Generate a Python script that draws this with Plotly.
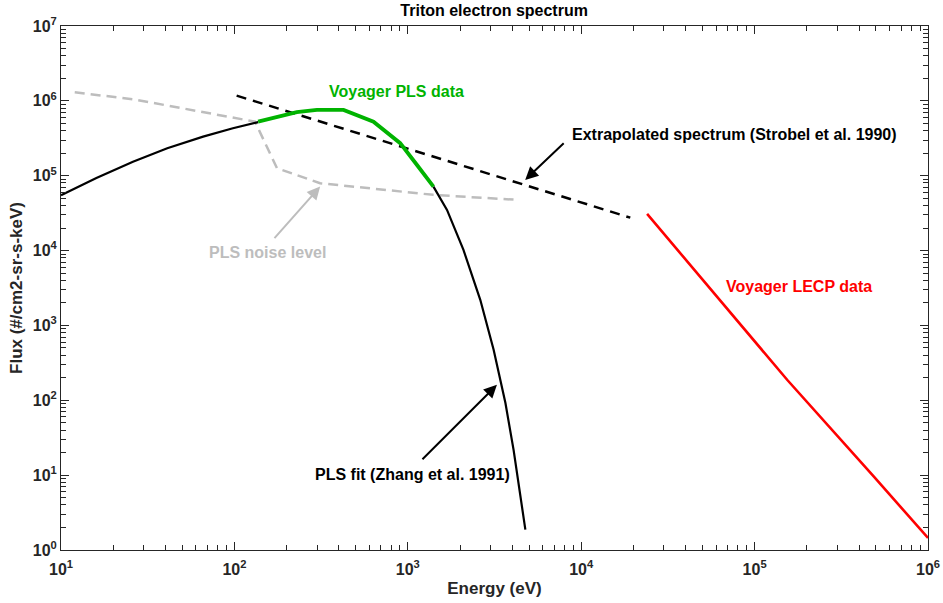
import plotly.graph_objects as go

# ---- data ----
fit_low_E = [10, 16, 26, 41, 66, 98, 137]
fit_low_F = [5.5e4, 9.3e4, 1.54e5, 2.33e5, 3.33e5, 4.3e5, 5.2e5]

pls_E = [137, 229, 299, 426, 634, 904, 1130, 1406]
pls_F = [5.27e5, 7.05e5, 7.57e5, 7.57e5, 5.27e5, 2.72e5, 1.39e5, 7.16e4]

fit_high_E = [1406, 1683, 2094, 2618, 3126, 3656, 4074, 4764]
fit_high_F = [7.16e4, 3.49e4, 1.02e4, 2198, 472, 91.8, 21.8, 1.87]

extrap_E = [103, 19190]
extrap_F = [1.175e6, 2.75e4]

noise_E = [12, 26.1, 131.5, 153.8, 176, 312, 1403, 4355]
noise_F = [1.3e6, 1.05e6, 5.27e5, 2.45e5, 1.26e5, 7.94e4, 5.55e4, 4.75e4]

lecp_E = [23990, 1.54e5, 4.86e5, 1.0e6]
lecp_F = [3.09e4, 188, 9.6, 1.45]

x_tickvals = [1e1, 1e2, 1e3, 1e4, 1e5, 1e6]
x_ticktext = ["10<sup>1</sup>", "10<sup>2</sup>", "10<sup>3</sup>", "10<sup>4</sup>", "10<sup>5</sup>", "10<sup>6</sup>"]
y_tickvals = [1e0, 1e1, 1e2, 1e3, 1e4, 1e5, 1e6, 1e7]
y_ticktext = ["10<sup>0</sup>", "10<sup>1</sup>", "10<sup>2</sup>", "10<sup>3</sup>", "10<sup>4</sup>", "10<sup>5</sup>", "10<sup>6</sup>", "10<sup>7</sup>"]

FONT = "Liberation Sans, Arial, Helvetica, sans-serif"
AX = "#262626"
GRAY = "#BDBDBD"
GREEN = "#00B300"
RED = "#FF0000"

fig = go.Figure()
fig.add_trace(go.Scatter(x=noise_E, y=noise_F, mode="lines",
                         line=dict(color=GRAY, width=2.5, dash="10px,6px")))
fig.add_trace(go.Scatter(x=extrap_E, y=extrap_F, mode="lines",
                         line=dict(color="black", width=2.5, dash="10px,7px")))
fig.add_trace(go.Scatter(x=fit_low_E, y=fit_low_F, mode="lines",
                         line=dict(color="black", width=2.2)))
fig.add_trace(go.Scatter(x=fit_high_E, y=fit_high_F, mode="lines",
                         line=dict(color="black", width=2.2)))
fig.add_trace(go.Scatter(x=pls_E, y=pls_F, mode="lines",
                         line=dict(color=GREEN, width=3.8)))
fig.add_trace(go.Scatter(x=lecp_E, y=lecp_F, mode="lines",
                         line=dict(color=RED, width=2.6)))

def minor_vals(lo, hi):
    out = []
    for d in range(lo, hi):
        for m in range(2, 10):
            out.append(m * 10 ** d)
    return out

axis_common = dict(
    type="log", showgrid=False, zeroline=False, automargin=False,
    showline=True, linecolor=AX, linewidth=1, mirror="allticks",
    ticks="inside", ticklen=8, tickwidth=1, tickcolor=AX,
    tickfont=dict(family=FONT, size=16, color=AX, weight="bold"),
)

fig.update_xaxes(**axis_common, range=[1, 6], tickmode="array",
                 tickvals=x_tickvals, ticktext=x_ticktext, ticklabelstandoff=5,
                 minor=dict(tickvals=minor_vals(1, 6), ticks="inside", ticklen=5, tickcolor=AX, showgrid=False),
                 title=dict(text="Energy (eV)", font=dict(family=FONT, size=17, color=AX, weight="bold"), standoff=4))
fig.update_yaxes(**axis_common, range=[0, 7], tickmode="array",
                 tickvals=y_tickvals, ticktext=y_ticktext,
                 minor=dict(tickvals=minor_vals(0, 7), ticks="inside", ticklen=5, tickcolor=AX, showgrid=False),
                 title=dict(text="Flux (#/cm2-sr-s-keV)", font=dict(family=FONT, size=17, color=AX, weight="bold"), standoff=5))

def txt(text, lx, ly, color, anchor="left"):
    fig.add_annotation(x=lx, y=ly, xref="x", yref="y", text=text, showarrow=False,
                       xanchor=anchor, yanchor="middle",
                       font=dict(family=FONT, size=16, color=color, weight="bold"))

# labels (log10 positions)
txt("Voyager PLS data", 2.533, 6.123, GREEN)
txt("Extrapolated spectrum (Strobel et al. 1990)", 3.937, 5.545, "black")
txt("PLS noise level", 1.8425, 3.969, GRAY)
txt("Voyager LECP data", 4.826, 3.519, RED)
txt("PLS fit (Zhang et al. 1991)", 2.455, 1.005, "black")

def arrow(hx, hy, ax, ay, color):
    fig.add_annotation(x=hx, y=hy, xref="x", yref="y", ax=ax, ay=ay, axref="pixel", ayref="pixel",
                       text="", showarrow=True, arrowhead=2, arrowsize=1.3, arrowwidth=2,
                       arrowcolor=color, standoff=0)

arrow(2.4945, 4.855, -47, 53, GRAY)
arrow(3.677, 4.944, 40, -38, "black")
arrow(3.514, 2.207, -76, 76, "black")

fig.update_layout(
    width=943, height=603,
    margin=dict(l=61, r=15, t=26, b=53, autoexpand=False),
    plot_bgcolor="white", paper_bgcolor="white",
    showlegend=False,
    title=dict(text="Triton electron spectrum", x=0.524, xanchor="center", y=0.983, yanchor="middle",
               font=dict(family=FONT, size=16, color="black", weight="bold")),
)

fig.write_html("out.html")
